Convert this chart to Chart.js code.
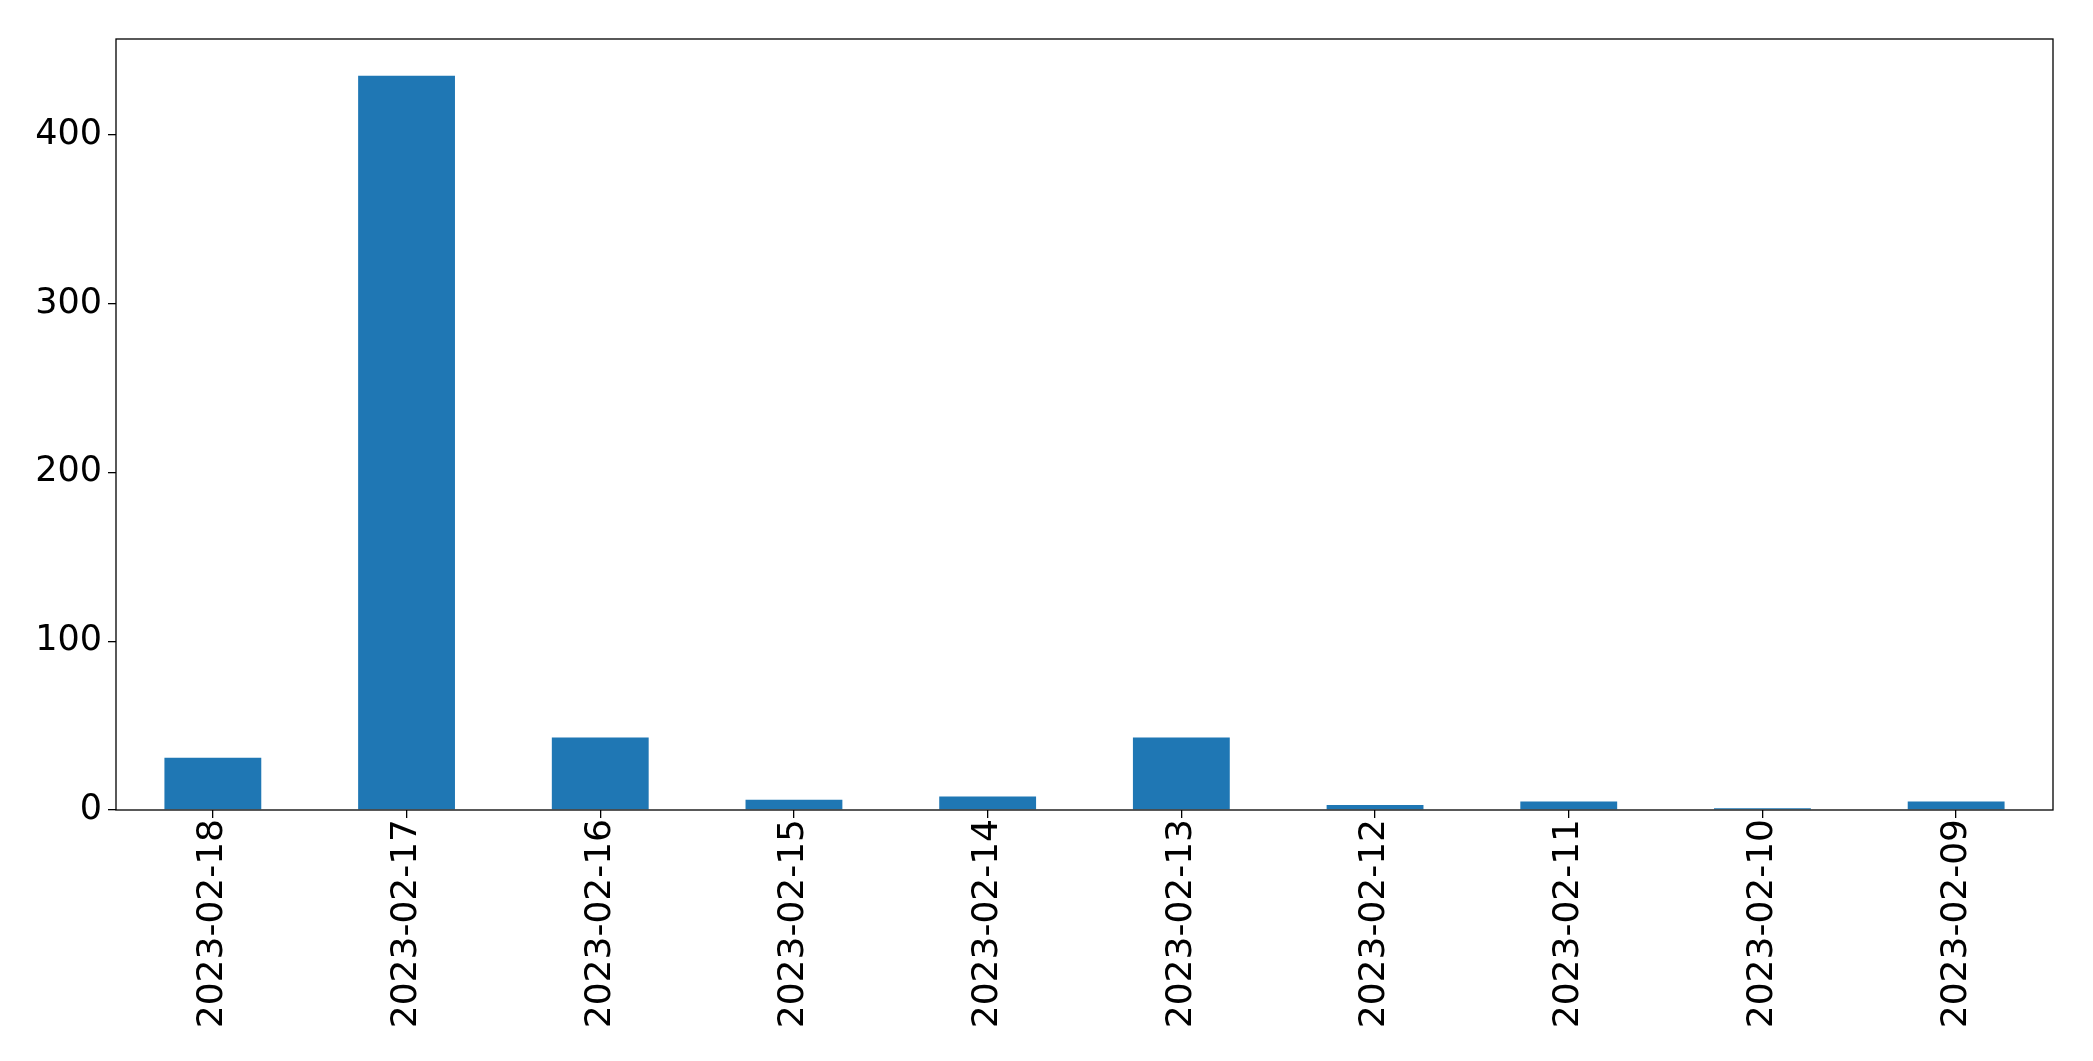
<!DOCTYPE html>
<html>
<head>
<meta charset="utf-8">
<script src="https://cdn.jsdelivr.net/npm/chart.js@4"></script>
<style>
  html, body { margin: 0; padding: 0; background: #fff; }
</style>
</head>
<body>
<canvas id="myChart" width="2093" height="1061"></canvas>
<script>
// data
const dates = ['2023-02-18', '2023-02-17', '2023-02-16', '2023-02-15', '2023-02-14',
               '2023-02-13', '2023-02-12', '2023-02-11', '2023-02-10', '2023-02-09'];
const counts = [31, 435, 43, 6, 8, 43, 3, 5, 1, 5];
const yTicks = [0, 100, 200, 300, 400];

const yMax = Math.max(...counts) * 1.05;

// box round the plot area, like matplotlib spines
const frame = {
  id: 'frame',
  afterDraw(chart) {
    const a = chart.chartArea;
    const c = chart.ctx;
    c.save();
    c.strokeStyle = '#000';
    c.lineWidth = 1.3;
    c.strokeRect(a.left, a.top, a.right - a.left, a.bottom - a.top);
    c.restore();
  }
};

const ctx = document.getElementById('myChart');

new Chart(ctx, {
  type: 'bar',
  data: {
    labels: dates,
    datasets: [{
      data: counts,
      backgroundColor: '#1f77b4',
      barPercentage: 0.5,
      categoryPercentage: 1.0
    }]
  },
  options: {
    responsive: false,
    animation: false,
    layout: { padding: { top: 39, right: 40, left: 0, bottom: 0 } },
    plugins: {
      legend: { display: false },
      tooltip: { enabled: false }
    },
    scales: {
      x: {
        grid: { drawOnChartArea: false, offset: false, color: '#000', tickLength: 8, lineWidth: 1.3 },
        border: { display: false },
        ticks: {
          color: '#000',
          font: { family: 'DejaVu Sans', size: 36 },
          minRotation: 90,
          maxRotation: 90,
          autoSkip: false,
          padding: 1
        },
        afterFit(scale) { scale.height = 251; }
      },
      y: {
        min: 0,
        max: yMax,
        afterBuildTicks(scale) { scale.ticks = yTicks.map(v => ({ value: v })); },
        grid: { drawOnChartArea: false, color: '#000', tickLength: 8, lineWidth: 1.3 },
        border: { display: false },
        ticks: {
          color: '#000',
          font: { family: 'DejaVu Sans', size: 35 },
          padding: 6
        },
        afterFit(scale) { scale.width = 116; }
      }
    }
  },
  plugins: [frame]
});
</script>
</body>
</html>
